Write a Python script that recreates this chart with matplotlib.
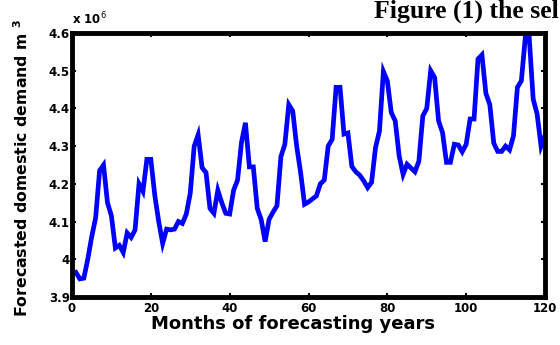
import matplotlib
matplotlib.use("Agg")
import matplotlib.pyplot as plt
import numpy as np

months = list(range(1, 121))
demand_millions = [
    3.965, 3.948, 3.950, 4.000, 4.060, 4.110, 4.235, 4.250, 4.150, 4.115,
    4.030, 4.037, 4.018, 4.070, 4.058, 4.078, 4.200, 4.180, 4.265, 4.265,
    4.170, 4.100, 4.042, 4.080, 4.078, 4.080, 4.100, 4.095, 4.120, 4.175,
    4.300, 4.330, 4.243, 4.230, 4.135, 4.122, 4.183, 4.150, 4.122, 4.120,
    4.183, 4.210, 4.310, 4.362, 4.245, 4.245, 4.135, 4.105, 4.047, 4.106,
    4.125, 4.142, 4.272, 4.305, 4.410, 4.393, 4.300, 4.230, 4.146, 4.152,
    4.160, 4.168, 4.200, 4.210, 4.300, 4.318, 4.456, 4.456, 4.332, 4.335,
    4.246, 4.232, 4.223, 4.208, 4.190, 4.204, 4.296, 4.340, 4.498, 4.473,
    4.389, 4.367, 4.274, 4.225, 4.252, 4.242, 4.232, 4.260, 4.380, 4.400,
    4.500, 4.482, 4.367, 4.336, 4.257, 4.257, 4.305, 4.303, 4.285, 4.305,
    4.372, 4.372, 4.531, 4.542, 4.440, 4.410, 4.308, 4.286, 4.286, 4.300,
    4.290, 4.327, 4.456, 4.473, 4.588, 4.588, 4.425, 4.385, 4.300, 4.328,
]
x_ticks = [0, 20, 40, 60, 80, 100, 120]
y_ticks = [3.9, 4.0, 4.1, 4.2, 4.3, 4.4, 4.5, 4.6]
y_tick_labels = ["3.9", "4", "4.1", "4.2", "4.3", "4.4", "4.5", "4.6"]

plt.rcParams['font.family'] = ['DejaVu Sans']

fig = plt.figure(figsize=(5.6, 3.45), dpi=100)
ax = fig.add_axes([72/560, 1-297/345, (545-72)/560, (297-33)/345])

ax.plot(months, demand_millions, color='#0000ff', linewidth=3.4, solid_joinstyle='miter')

ax.set_xlim(0, 120)
ax.set_ylim(3.9, 4.6)
ax.set_xticks(x_ticks)
ax.set_xticklabels([str(t) for t in x_ticks], fontweight='bold', fontsize=8.5)
ax.set_yticks(y_ticks)
ax.set_yticklabels(y_tick_labels, fontweight='bold', fontsize=8.5)
ax.tick_params(direction='in', length=3, width=1.5, top=True, right=True, colors='black')
ax.tick_params(axis='x', pad=3.5)
ax.tick_params(axis='y', pad=1.5)

for s in ax.spines.values():
    s.set_linewidth(3.5)
    s.set_color('black')

ax.set_xlabel("Months of forecasting years", fontweight='bold', fontsize=13)
ax.xaxis.set_label_coords((293-72)/473, (297-315)/264)
ax.set_ylabel("Forecasted domestic demand m $^{\\mathbf{3}}$", fontweight='bold', fontsize=11.3)
ax.yaxis.set_label_coords((31-72)/473, 0.49)

fig.text(72/560, 1-19/345, "x 10$^{6}$", fontweight='bold', fontsize=8.5, ha='left', va='center')
fig.text(559/560, 1-11/345, "Figure (1) the sel", fontweight='bold', fontsize=18.5,
         family=['Liberation Serif', 'DejaVu Serif'], ha='right', va='center')

fig.savefig("out.png", dpi=100)
